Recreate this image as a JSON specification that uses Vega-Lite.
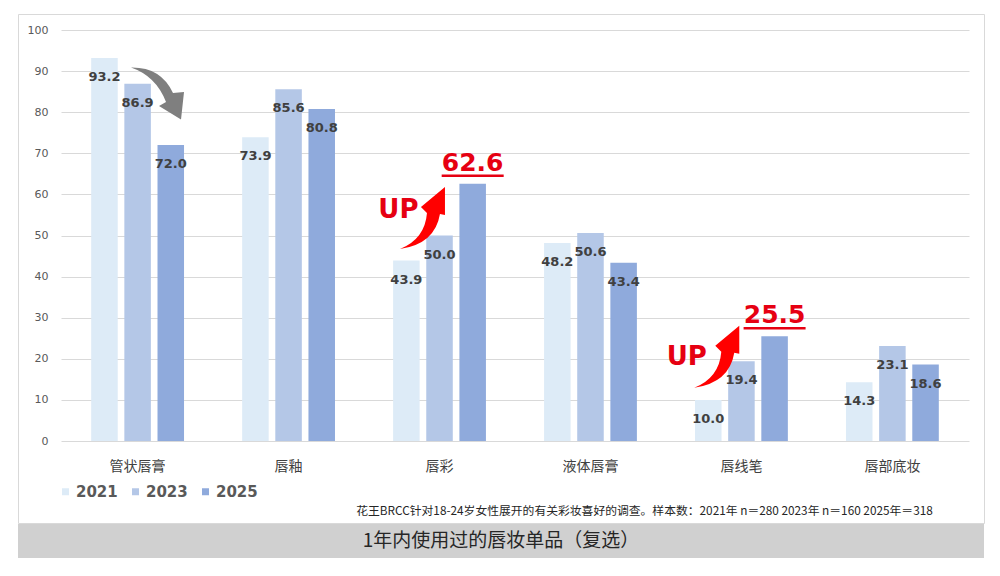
{
  "$schema": "https://vega.github.io/schema/vega-lite/v6.json",
  "background": "white",
  "padding": {"left": 17, "top": 13, "right": 17, "bottom": 20},
  "spacing": 0,
  "config": {"view": {"stroke": null}},
  "vconcat": [
    {
      "width": 966,
      "height": 509,
      "view": {"stroke": "#d9d9d9"},
      "data": {
        "values": [
          {"cat": "管状唇膏", "year": "2021", "value": 93.2},
          {"cat": "管状唇膏", "year": "2023", "value": 86.9},
          {"cat": "管状唇膏", "year": "2025", "value": 72.0},
          {"cat": "唇釉", "year": "2021", "value": 73.9},
          {"cat": "唇釉", "year": "2023", "value": 85.6},
          {"cat": "唇釉", "year": "2025", "value": 80.8},
          {"cat": "唇彩", "year": "2021", "value": 43.9},
          {"cat": "唇彩", "year": "2023", "value": 50.0},
          {"cat": "唇彩", "year": "2025", "value": 62.6},
          {"cat": "液体唇膏", "year": "2021", "value": 48.2},
          {"cat": "液体唇膏", "year": "2023", "value": 50.6},
          {"cat": "液体唇膏", "year": "2025", "value": 43.4},
          {"cat": "唇线笔", "year": "2021", "value": 10.0},
          {"cat": "唇线笔", "year": "2023", "value": 19.4},
          {"cat": "唇线笔", "year": "2025", "value": 25.5},
          {"cat": "唇部底妆", "year": "2021", "value": 14.3},
          {"cat": "唇部底妆", "year": "2023", "value": 23.1},
          {"cat": "唇部底妆", "year": "2025", "value": 18.6}
        ]
      },
      "layer": [
        {
          "mark": {"type": "bar"},
          "encoding": {
            "x": {
              "field": "cat",
              "type": "nominal",
              "scale": {
                "domain": ["管状唇膏", "唇釉", "唇彩", "液体唇膏", "唇线笔", "唇部底妆"],
                "range": [43, 951],
                "paddingInner": 0.385,
                "paddingOuter": 0.2
              },
              "axis": {
                "title": null,
                "domain": false,
                "ticks": false,
                "offset": -72,
                "labelPadding": 8,
                "labelAngle": 0,
                "labelFont": "Noto Sans CJK SC",
                "labelFontSize": 14,
                "labelColor": "#404040"
              }
            },
            "xOffset": {
              "field": "year",
              "type": "nominal",
              "scale": {"domain": ["2021", "2023", "2025"], "paddingInner": 0.2, "paddingOuter": 0}
            },
            "y": {
              "field": "value",
              "type": "quantitative",
              "scale": {"domain": [0, 100], "range": [427, 16], "nice": false},
              "axis": {
                "title": null,
                "values": [0, 10, 20, 30, 40, 50, 60, 70, 80, 90, 100],
                "grid": true,
                "gridColor": "#d9d9d9",
                "domain": false,
                "ticks": false,
                "offset": -33,
                "labelPadding": 3,
                "labelFont": "DejaVu Sans",
                "labelFontSize": 11,
                "labelColor": "#595959"
              }
            },
            "color": {
              "field": "year",
              "type": "nominal",
              "scale": {"domain": ["2021", "2023", "2025"], "range": ["#ddebf7", "#b4c7e7", "#8faadc"]},
              "legend": {
                "title": null,
                "orient": "none",
                "legendX": 40,
                "legendY": 470,
                "direction": "horizontal",
                "symbolType": "square",
                "symbolSize": 49,
                "symbolStrokeWidth": 0,
                "labelFont": "DejaVu Sans",
                "labelFontSize": 15,
                "labelFontWeight": "bold",
                "labelColor": "#595959",
                "labelOffset": 3,
                "columnPadding": 10
              }
            }
          }
        },
        {
          "transform": [{"filter": "!((datum.cat == '唇彩' || datum.cat == '唇线笔') && datum.year == '2025')"}],
          "mark": {"type": "text", "font": "DejaVu Sans", "fontWeight": "bold", "fontSize": 13, "color": "#404040", "baseline": "middle", "dy": 19},
          "encoding": {
            "x": {"field": "cat", "type": "nominal"},
            "xOffset": {"field": "year", "type": "nominal"},
            "y": {"field": "value", "type": "quantitative"},
            "text": {"field": "value", "type": "quantitative", "format": ".1f"}
          }
        },
        {
          "transform": [{"filter": "(datum.cat == '唇彩' || datum.cat == '唇线笔') && datum.year == '2025'"}],
          "mark": {"type": "text", "font": "DejaVu Sans", "fontWeight": "bold", "fontSize": 25, "color": "#e60012", "baseline": "middle", "dy": -21},
          "encoding": {
            "x": {"field": "cat", "type": "nominal"},
            "xOffset": {"field": "year", "type": "nominal"},
            "y": {"field": "value", "type": "quantitative"},
            "text": {"field": "value", "type": "quantitative", "format": ".1f"}
          }
        },
        {
          "transform": [{"filter": "(datum.cat == '唇彩' || datum.cat == '唇线笔') && datum.year == '2025'"}],
          "mark": {"type": "point", "shape": "M -31 -8 L 31 -8", "size": 4, "filled": false, "color": "#e60012", "strokeWidth": 2.5, "opacity": 1},
          "encoding": {
            "x": {"field": "cat", "type": "nominal"},
            "xOffset": {"field": "year", "type": "nominal"},
            "y": {"field": "value", "type": "quantitative"}
          }
        },
        {
          "data": {"values": [{"cat": "管状唇膏", "year": "2023", "value": 90}]},
          "mark": {"type": "point", "shape": "M -6.6 -3.6 Q 23.4 -4.1 35.4 21.9 L 46.4 20.9 L 43.4 48.4 L 21.4 34.9 L 28.4 30.9 Q 18.4 4.9 -6.6 -3.6 Z", "size": 4, "filled": true, "color": "#7f7f7f", "strokeWidth": 0, "opacity": 1},
          "encoding": {
            "x": {"field": "cat", "type": "nominal"},
            "xOffset": {"field": "year", "type": "nominal"},
            "y": {"field": "value", "type": "quantitative"}
          }
        },
        {
          "data": {"values": [{"cat": "唇彩", "year": "2021", "value": 50}]},
          "mark": {"type": "point", "shape": "M -6.4 13.5 Q 18.6 3.5 20.6 -22.5 L 14.6 -28.5 L 38.6 -48.5 L 38.6 -20.5 L 33.6 -21.5 Q 28.6 8.5 -6.4 13.5 Z", "size": 4, "filled": true, "color": "#ff0000", "strokeWidth": 0, "opacity": 1},
          "encoding": {
            "x": {"field": "cat", "type": "nominal"},
            "xOffset": {"field": "year", "type": "nominal"},
            "y": {"field": "value", "type": "quantitative"}
          }
        },
        {
          "data": {"values": [{"cat": "唇线笔", "year": "2021", "value": 16.25}]},
          "mark": {"type": "point", "shape": "M -14 13.5 Q 11 3.5 13 -22.5 L 7 -28.5 L 31 -48.5 L 31 -20.5 L 26 -21.5 Q 21 8.5 -14 13.5 Z", "size": 4, "filled": true, "color": "#ff0000", "strokeWidth": 0, "opacity": 1},
          "encoding": {
            "x": {"field": "cat", "type": "nominal"},
            "xOffset": {"field": "year", "type": "nominal"},
            "y": {"field": "value", "type": "quantitative"}
          }
        },
        {
          "data": {"values": [{"cat": "唇彩", "year": "2021", "value": 56.2, "t": "UP"}]},
          "mark": {"type": "text", "font": "DejaVu Sans", "fontWeight": "bold", "fontSize": 26, "color": "#e60012", "baseline": "middle", "dx": -8},
          "encoding": {
            "x": {"field": "cat", "type": "nominal"},
            "xOffset": {"field": "year", "type": "nominal"},
            "y": {"field": "value", "type": "quantitative"},
            "text": {"field": "t", "type": "nominal"}
          }
        },
        {
          "data": {"values": [{"cat": "唇线笔", "year": "2021", "value": 20.4, "t": "UP"}]},
          "mark": {"type": "text", "font": "DejaVu Sans", "fontWeight": "bold", "fontSize": 26, "color": "#e60012", "baseline": "middle", "dx": -21.5},
          "encoding": {
            "x": {"field": "cat", "type": "nominal"},
            "xOffset": {"field": "year", "type": "nominal"},
            "y": {"field": "value", "type": "quantitative"},
            "text": {"field": "t", "type": "nominal"}
          }
        },
        {
          "data": {"values": [{"cat": "唇部底妆", "value": -17.0, "note": "花王BRCC针对18-24岁女性展开的有关彩妆喜好的调查。样本数：2021年 n＝280  2023年 n＝160  2025年＝318"}]},
          "mark": {"type": "text", "font": "Noto Sans CJK SC", "fontSize": 11.8, "color": "#262626", "align": "right", "baseline": "middle", "dx": -6},
          "encoding": {
            "x": {"field": "cat", "type": "nominal", "bandPosition": 1},
            "y": {"field": "value", "type": "quantitative"},
            "text": {"field": "note", "type": "nominal"}
          }
        }
      ]
    },
    {
      "width": 966,
      "height": 34,
      "view": {"fill": "#d0d0d0", "stroke": null},
      "data": {"values": [{"t": "1年内使用过的唇妆单品（复选）"}]},
      "mark": {"type": "text", "font": "Noto Sans CJK SC", "fontSize": 19, "color": "#262626", "baseline": "middle"},
      "encoding": {"text": {"field": "t", "type": "nominal"}}
    }
  ]
}
